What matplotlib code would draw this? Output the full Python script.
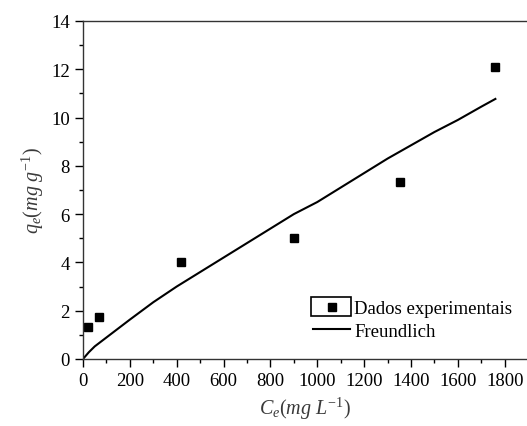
import numpy as np
import matplotlib.pyplot as plt
from matplotlib.patches import Rectangle
from matplotlib.ticker import MultipleLocator

# dados experimentais
ce_exp = [21, 68, 420, 899, 1352, 1759]
qe_exp = [1.34, 1.73, 4.03, 5.0, 7.35, 12.11]

# curva de Freundlich
ce_fit = [0, 25, 50, 100, 200, 300, 400, 500, 600, 700, 800, 900, 1000,
          1100, 1200, 1300, 1400, 1500, 1600, 1700, 1760]
qe_fit = [0, 0.28, 0.52, 0.89, 1.63, 2.35, 3.0, 3.6, 4.2, 4.8, 5.4, 6.0, 6.5,
          7.1, 7.7, 8.3, 8.85, 9.4, 9.9, 10.45, 10.77]

plt.rcParams['font.family'] = ['Liberation Serif', 'DejaVu Serif']
plt.rcParams['mathtext.fontset'] = 'custom'
plt.rcParams['mathtext.rm'] = 'Liberation Serif'
plt.rcParams['mathtext.it'] = 'Liberation Serif:italic'

fig = plt.figure(figsize=(5.27, 4.27), dpi=100)
ax = fig.add_axes([0.1575, 0.157, 0.8425, 0.7916])

ax.plot(ce_exp, qe_exp, 's', color='black', ms=5.5, label='Dados experimentais')
ax.plot(ce_fit, qe_fit, '-', color='black', lw=1.5, label='Freundlich')

ax.set_xlim(0, 1895)
ax.set_ylim(0, 14)
ax.xaxis.set_major_locator(MultipleLocator(200))
ax.xaxis.set_minor_locator(MultipleLocator(100))
ax.yaxis.set_major_locator(MultipleLocator(2))
ax.yaxis.set_minor_locator(MultipleLocator(1))
ax.tick_params(which='major', direction='out', length=6, width=1, labelsize=13.5)
ax.tick_params(which='minor', direction='out', length=3, width=1)
ax.spines['right'].set_visible(False)
for s in ['left', 'bottom', 'top']:
    ax.spines[s].set_color('#333333')
    ax.spines[s].set_linewidth(1)

ax.set_xlabel(r'$C_e$$\mathit{(mg\ L^{-1})}$', fontsize=14.5, color='#3a3a3a')
ax.set_ylabel(r'$q_e$$\mathit{(mg\ g^{-1})}$', fontsize=14.5, color='#3a3a3a')

leg = ax.legend(loc='upper left', bbox_to_anchor=(0.518, 0.174), frameon=False,
                fontsize=13.5, handlelength=2.0, handletextpad=0.2,
                borderpad=0, borderaxespad=0, labelspacing=0.28)
fig.add_artist(Rectangle((0.590, 0.2576), 0.0759, 0.0445, transform=fig.transFigure,
                         fill=False, edgecolor='black', lw=1.2))

fig.savefig('out.png', dpi=100)
